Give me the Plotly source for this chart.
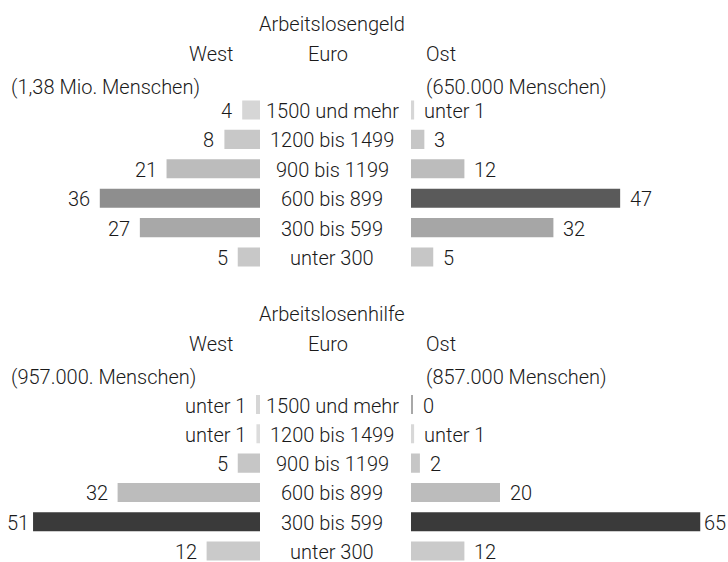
import plotly.graph_objects as go

# ---------------- data ----------------
categories = ["1500 und mehr", "1200 bis 1499", "900 bis 1199",
              "600 bis 899", "300 bis 599", "unter 300"]

geld_west = [4, 8, 21, 36, 27, 5]
geld_west_labels = ["4", "8", "21", "36", "27", "5"]
geld_ost = [0.7, 3, 12, 47, 32, 5]
geld_ost_labels = ["unter 1", "3", "12", "47", "32", "5"]

hilfe_west = [0.9, 0.8, 5, 32, 51, 12]
hilfe_west_labels = ["unter 1", "unter 1", "5", "32", "51", "12"]
hilfe_ost = [0.45, 0.7, 2, 20, 65, 12]
hilfe_ost_labels = ["0", "unter 1", "2", "20", "65", "12"]

# ---------------- styles ----------------
geld_west_colors = ["#d6d6d6", "#c8c8c8", "#bcbcbc", "#8e8e8e", "#a8a8a8", "#c8c8c8"]
geld_ost_colors = ["#d6d6d6", "#c6c6c6", "#bcbcbc", "#5a5a5a", "#a6a6a6", "#c6c6c6"]
hilfe_west_colors = ["#d6d6d6", "#dcdcdc", "#c6c6c6", "#bcbcbc", "#3a3a3a", "#cacaca"]
hilfe_ost_colors = ["#a8a8a8", "#d8d8d8", "#c6c6c6", "#bcbcbc", "#3a3a3a", "#cacaca"]

W, H = 728, 562
FONT = "Roboto, Liberation Sans, Arial, sans-serif"
FS = 20
TXT = "#1a1a1a"
PX_PER_UNIT = 4.45
WEST_RIGHT = 260
OST_LEFT = 411

fig = go.Figure()


def add_bars(vals, cols, xa, ya, name):
    fig.add_trace(go.Bar(
        x=vals, y=categories, orientation="h", xaxis=xa, yaxis=ya,
        marker=dict(color=cols, line=dict(width=0)), width=0.65,
        name=name, showlegend=False, hoverinfo="skip"))


add_bars(geld_west, geld_west_colors, "x", "y", "Geld West")
add_bars(geld_ost, geld_ost_colors, "x2", "y", "Geld Ost")
add_bars(hilfe_west, hilfe_west_colors, "x", "y2", "Hilfe West")
add_bars(hilfe_ost, hilfe_ost_colors, "x2", "y2", "Hilfe Ost")

ann = []


def txt(text, **kw):
    d = dict(text=text, showarrow=False,
             font=dict(family=FONT, size=FS, color=TXT, weight=300))
    d.update(kw)
    ann.append(d)


ROW_SHIFT = -1


def value_labels(vals, labels, xref, yref, side):
    for c, v, lab in zip(categories, vals, labels):
        gap = 2 if v > 50 else 8
        if side == "left":
            txt(lab, x=v, y=c, xref=xref, yref=yref, xanchor="right",
                yanchor="middle", xshift=-gap, yshift=ROW_SHIFT)
        else:
            txt(lab, x=v, y=c, xref=xref, yref=yref, xanchor="left",
                yanchor="middle", xshift=gap, yshift=ROW_SHIFT)


value_labels(geld_west, geld_west_labels, "x", "y", "left")
value_labels(geld_ost, geld_ost_labels, "x2", "y", "right")
value_labels(hilfe_west, hilfe_west_labels, "x", "y2", "left")
value_labels(hilfe_ost, hilfe_ost_labels, "x2", "y2", "right")

# center category labels
for yref in ("y", "y2"):
    for c in categories:
        txt(c, x=332 / W, y=c, xref="paper", yref=yref, xanchor="center",
            yanchor="middle", yshift=ROW_SHIFT)


def py(px):
    return 1 - px / H


# headers
for title, top, sub_w, sub_o in [
        ("Arbeitslosengeld", 24, "(1,38 Mio. Menschen)", "(650.000 Menschen)"),
        ("Arbeitslosenhilfe", 314, "(957.000. Menschen)", "(857.000 Menschen)")]:
    txt(title, x=332 / W, y=py(top), xref="paper", yref="paper",
        xanchor="center", yanchor="middle")
    txt("West", x=236 / W, y=py(top + 30), xref="paper", yref="paper",
        xanchor="right", yanchor="middle")
    txt("Euro", x=328 / W, y=py(top + 30), xref="paper", yref="paper",
        xanchor="center", yanchor="middle")
    txt("Ost", x=424 / W, y=py(top + 30), xref="paper", yref="paper",
        xanchor="left", yanchor="middle")
    txt(sub_w, x=9 / W, y=py(top + 63), xref="paper", yref="paper",
        xanchor="left", yanchor="middle")
    txt(sub_o, x=424 / W, y=py(top + 63), xref="paper", yref="paper",
        xanchor="left", yanchor="middle")

hidden = dict(showgrid=False, zeroline=False, showticklabels=False,
              showline=False, ticks="", fixedrange=True)

fig.update_layout(
    width=W, height=H,
    margin=dict(l=0, r=0, t=0, b=0, pad=0),
    paper_bgcolor="white", plot_bgcolor="white",
    barmode="overlay",
    xaxis=dict(domain=[0, WEST_RIGHT / W],
               range=[WEST_RIGHT / PX_PER_UNIT, 0], anchor="y", **hidden),
    xaxis2=dict(domain=[OST_LEFT / W, 1],
                range=[0, (W - OST_LEFT) / PX_PER_UNIT], anchor="y", **hidden),
    yaxis=dict(domain=[1 - 271.7 / H, 1 - 95.3 / H], range=[5.5, -0.5],
               type="category", categoryorder="array", categoryarray=categories,
               anchor="x", **hidden),
    yaxis2=dict(domain=[0, 1 - 389.85 / H], range=[5.375, -0.5],
                type="category", categoryorder="array", categoryarray=categories,
                anchor="x", **hidden),
    annotations=ann,
    showlegend=False,
)

fig.write_html(
    "out.html",
    config={"displayModeBar": False},
    post_script="document.body.style.margin='0';document.body.style.overflow='hidden';",
)
